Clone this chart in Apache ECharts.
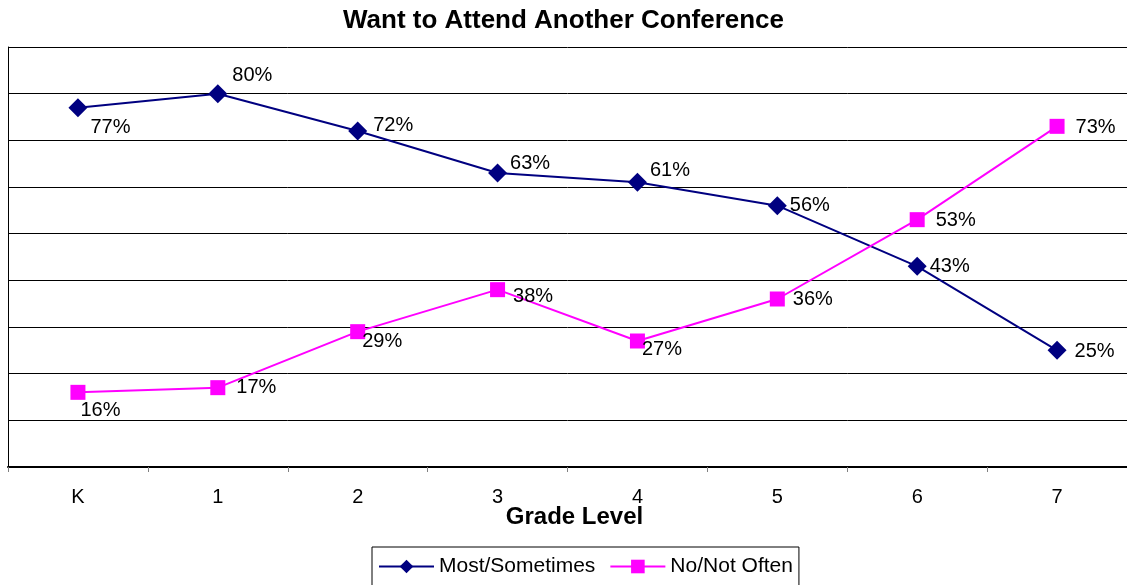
<!DOCTYPE html>
<html>
<head>
<meta charset="utf-8">
<script src="https://cdn.jsdelivr.net/npm/echarts@6/dist/echarts.min.js"></script>
<style>
  html, body { margin: 0; padding: 0; background: #fff; }
  #chart { width: 1127px; height: 585px; }
</style>
</head>
<body>
<div id="chart"></div>
<script>
// data
const categories = ['K', '1', '2', '3', '4', '5', '6', '7'];
const mostSometimes = [77, 80, 72, 63, 61, 56, 43, 25];
const noNotOften = [16, 17, 29, 38, 27, 36, 53, 73];

// label nudges so the percentages sit where the original puts them
const mostOffsets = [[-2, 20], [0, -18], [1, -6], [-2, -10], [-2, -12], [-2, 0], [-2, 0], [3, 1]];
const noOffsets = [[-10, 18], [6, 0], [-8, 10], [3, 7], [-8, 8], [3, 0], [6, 1], [6, 1]];

const font = '"Liberation Sans", Arial, sans-serif';

const withLabels = (values, offsets) => values.map((v, i) => ({
  value: v,
  label: { offset: offsets[i] }
}));

const chart = echarts.init(document.getElementById('chart'));

chart.setOption({
  animation: false,
  textStyle: { fontFamily: font },
  title: {
    text: 'Want to Attend Another Conference',
    left: 'center',
    top: 3,
    textStyle: { fontSize: 26, fontWeight: 'bold', color: '#000', fontFamily: font }
  },
  grid: { left: 8, top: 47, width: 1120, height: 420 },
  xAxis: {
    type: 'category',
    data: categories,
    boundaryGap: true,
    name: 'Grade Level',
    nameLocation: 'middle',
    nameGap: 38,
    nameMoveOverlap: false,
    nameTextStyle: { fontSize: 24, fontWeight: 'bold', color: '#000', fontFamily: font, padding: [0, 0, 0, 14] },
    axisLine: { lineStyle: { color: '#000', width: 2 } },
    axisTick: { show: true, length: 5, lineStyle: { color: '#808080' } },
    axisLabel: { margin: 20, fontSize: 20, color: '#000', fontFamily: font }
  },
  yAxis: {
    type: 'value',
    min: 0,
    max: 90,
    interval: 10,
    axisLine: { show: true, lineStyle: { color: '#000', width: 1 } },
    axisTick: { show: false },
    axisLabel: { show: false },
    splitLine: { lineStyle: { color: '#000', width: 1 } }
  },
  legend: {
    left: 372,
    top: 547,
    padding: [9, 6, 14, 6],
    borderColor: '#000',
    borderWidth: 1,
    itemWidth: 55,
    itemHeight: 17,
    itemGap: 14,
    textStyle: { fontSize: 21, color: '#000', fontFamily: font },
    data: ['Most/Sometimes', 'No/Not Often']
  },
  series: [
    {
      name: 'Most/Sometimes',
      type: 'line',
      data: withLabels(mostSometimes, mostOffsets),
      symbol: 'diamond',
      symbolSize: 19,
      lineStyle: { color: '#000080', width: 2 },
      itemStyle: { color: '#000080' },
      label: {
        show: true,
        position: 'right',
        formatter: '{c}%',
        fontSize: 20,
        color: '#000',
        fontFamily: font
      }
    },
    {
      name: 'No/Not Often',
      type: 'line',
      data: withLabels(noNotOften, noOffsets),
      symbol: 'rect',
      symbolSize: 15,
      lineStyle: { color: '#ff00ff', width: 2 },
      itemStyle: { color: '#ff00ff' },
      label: {
        show: true,
        position: 'right',
        formatter: '{c}%',
        fontSize: 20,
        color: '#000',
        fontFamily: font
      }
    }
  ]
});
</script>
</body>
</html>
